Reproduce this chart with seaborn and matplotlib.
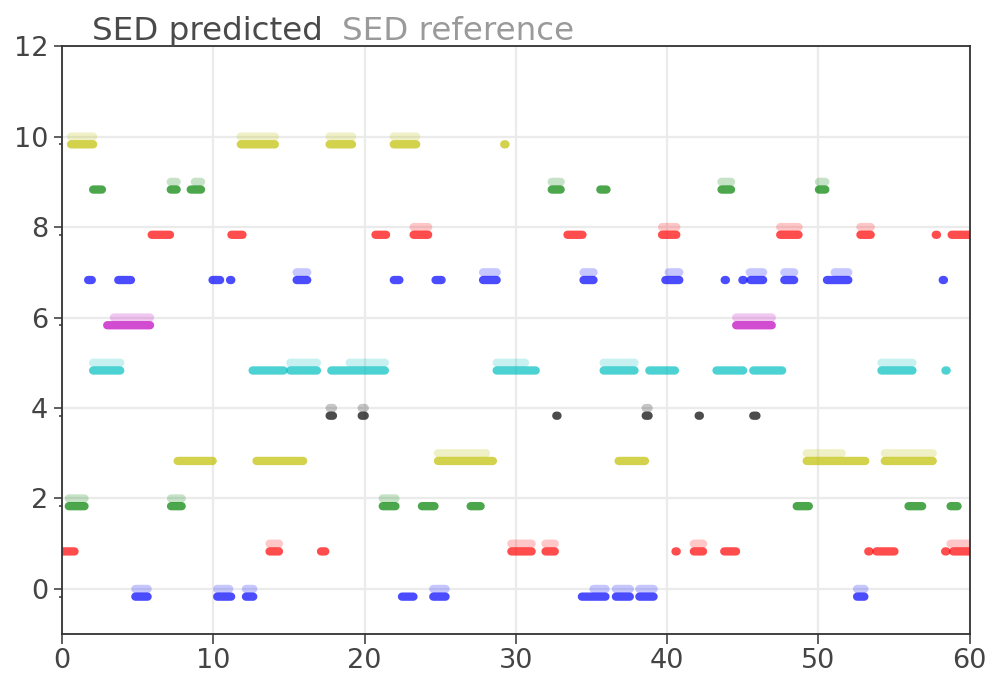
import numpy as np
import pandas as pd
import matplotlib
matplotlib.use("Agg")
import matplotlib.pyplot as plt
import seaborn as sns

# Class colours (matplotlib single-letter colours), one per event class 0..10
class_colors = ["b", "r", "g", "y", "k", "c", "m", "b", "r", "g", "y"]

# Predicted events: class, onset (s), offset (s)
pred_class = [10, 10, 10, 10, 10,
              9, 9, 9, 9, 9, 9, 9,
              8, 8, 8, 8, 8, 8, 8, 8, 8, 8,
              7, 7, 7, 7, 7, 7, 7, 7, 7, 7, 7, 7, 7, 7, 7, 7,
              6, 6,
              5, 5, 5, 5, 5, 5, 5, 5, 5, 5, 5,
              4, 4, 4, 4, 4, 4,
              3, 3, 3, 3, 3, 3,
              2, 2, 2, 2, 2, 2, 2, 2,
              1, 1, 1, 1, 1, 1, 1, 1, 1, 1, 1, 1,
              0, 0, 0, 0, 0, 0, 0, 0, 0]
pred_onset = [0.60, 11.82, 17.69, 21.93, 29.27,
              2.06, 7.19, 8.51, 32.37, 35.58, 43.59, 50.03,
              5.93, 11.20, 20.72, 23.24, 33.41, 39.66, 47.47, 52.77, 57.79, 58.80,
              1.73, 3.72, 9.95, 11.15, 15.51, 21.93, 24.69, 27.83, 34.47, 39.88, 43.84, 45.01, 45.51, 47.74, 50.56, 58.25,
              2.99, 44.56,
              2.06, 12.60, 15.09, 17.80, 28.73, 35.80, 38.82, 43.26, 45.69, 54.16, 58.43,
              17.69, 19.81, 32.71, 38.58, 42.12, 45.69,
              7.65, 12.86, 24.85, 36.79, 49.22, 54.38,
              0.45, 7.21, 21.20, 23.79, 27.01, 48.56, 55.95, 58.73,
              0.00, 13.72, 17.12, 29.70, 31.96, 40.59, 41.76, 43.77, 53.33, 53.83, 58.41, 58.90,
              4.85, 10.26, 12.16, 22.47, 24.54, 34.36, 36.61, 38.16, 52.55]
pred_offset = [2.06, 14.07, 19.17, 23.41, 29.27,
               2.64, 7.58, 9.19, 32.96, 35.99, 44.22, 50.45,
               7.14, 11.93, 21.42, 24.20, 34.40, 40.60, 48.68, 53.45, 57.79, 60.00,
               1.97, 4.56, 10.45, 11.15, 16.21, 22.30, 25.09, 28.73, 35.13, 40.80, 43.84, 45.01, 46.34, 48.39, 51.97, 58.25,
               5.82, 46.91,
               3.85, 14.65, 16.85, 21.34, 31.31, 37.84, 40.51, 45.02, 47.60, 56.21, 58.43,
               17.91, 20.01, 32.71, 38.77, 42.12, 45.90,
               9.96, 15.94, 28.48, 38.53, 53.09, 57.55,
               1.49, 7.91, 22.04, 24.62, 27.67, 49.36, 56.85, 59.19,
               0.83, 14.34, 17.40, 31.04, 32.57, 40.59, 42.37, 44.55, 53.33, 55.02, 58.41, 60.00,
               5.66, 11.18, 12.64, 23.23, 25.35, 35.92, 37.53, 39.10, 53.03]

# Reference (ground-truth) events: class, onset (s), offset (s)
ref_class = [10, 10, 10, 10,
             9, 9, 9, 9, 9,
             8, 8, 8, 8,
             7, 7, 7, 7, 7, 7, 7,
             6, 6,
             5, 5, 5, 5, 5, 5,
             4, 4, 4,
             3, 3, 3,
             2, 2, 2,
             1, 1, 1, 1, 1,
             0, 0, 0, 0, 0, 0, 0, 0]
ref_onset = [0.60, 11.82, 17.69, 21.93,
             7.19, 8.78, 32.37, 43.59, 50.03,
             23.24, 39.66, 47.47, 52.77,
             15.51, 27.83, 34.47, 40.10, 45.46, 47.74, 51.07,
             3.43, 44.56,
             2.06, 15.09, 19.02, 28.73, 35.80, 54.16,
             17.69, 19.81, 38.58,
             24.85, 49.22, 54.38,
             0.45, 7.21, 21.20,
             13.72, 29.70, 31.96, 41.76, 58.73,
             4.85, 10.26, 12.16, 24.54, 35.13, 36.61, 38.16, 52.55]
ref_offset = [2.06, 14.07, 19.17, 23.41,
              7.58, 9.19, 32.96, 44.22, 50.45,
              24.20, 40.60, 48.68, 53.45,
              16.21, 28.73, 35.13, 40.80, 46.34, 48.39, 51.97,
              5.82, 46.91,
              3.85, 16.85, 21.34, 30.60, 37.84, 56.21,
              17.91, 20.01, 38.77,
              28.02, 51.53, 57.55,
              1.49, 7.91, 22.04,
              14.34, 31.04, 32.57, 42.37, 60.00,
              5.66, 11.05, 12.64, 25.35, 35.92, 37.53, 39.10, 53.03]

y_ticks = [0, 2, 4, 6, 8, 10, 12]
x_ticks = [0, 10, 20, 30, 40, 50, 60]

PRED_SHIFT = -0.17
MIN_LEN = 0.08  # single-frame events still get a visible round dot


def to_long(classes, onsets, offsets, shift):
    rows = []
    for k, (c, a, b) in enumerate(zip(classes, onsets, offsets)):
        if b - a < MIN_LEN:
            mid = 0.5 * (a + b)
            a, b = mid - MIN_LEN / 2, mid + MIN_LEN / 2
        rows.append({"seg": k, "cls": c, "t": a, "y": c + shift})
        rows.append({"seg": k, "cls": c, "t": b, "y": c + shift})
    return pd.DataFrame(rows)


pred_df = to_long(pred_class, pred_onset, pred_offset, PRED_SHIFT)
ref_df = to_long(ref_class, ref_onset, ref_offset, 0.0)
palette = {i: matplotlib.colors.to_rgb(c) for i, c in enumerate(class_colors)}

sns.set_theme(style="whitegrid")
plt.rcParams["font.family"] = ["DejaVu Sans"]

fig = plt.figure(figsize=(9.9, 6.79), dpi=100)
ax = fig.add_axes([0.0626, 0.066, 0.917, 0.866])

common = dict(x="t", y="y", units="seg", estimator=None, hue="cls",
              palette=palette, legend=False, sort=False, ax=ax,
              linewidth=6.0, solid_capstyle="round", snap=False)
sns.lineplot(data=ref_df, alpha=0.22, **common)
sns.lineplot(data=pred_df, alpha=0.7, **common)

ax.set_xlim(0, 60)
ax.set_ylim(-1, 12)
ax.set_xticks(x_ticks)
ax.set_yticks(y_ticks)
ax.set_yticks([t + PRED_SHIFT for t in y_ticks[:-1]], minor=True)
ax.set_xlabel("")
ax.set_ylabel("")
ax.grid(True, which="major", color="#ebebeb", linewidth=1.6)
ax.grid(False, which="minor")
ax.set_axisbelow(True)

for side in ["left", "right", "top", "bottom"]:
    ax.spines[side].set_visible(True)
    ax.spines[side].set_color("#333333")
    ax.spines[side].set_linewidth(1.3)

ax.tick_params(axis="both", which="major", direction="out", length=6,
               width=1.2, color="#444444", labelsize=19.5, labelcolor="#444444",
               pad=4)
ax.tick_params(axis="y", which="minor", direction="out", length=2.5,
               width=1.2, color="#444444", left=True)
ax.tick_params(axis="x", which="major", length=7, pad=3)
ax.yaxis.set_ticks_position("left")
ax.xaxis.set_ticks_position("bottom")

ax.text(0.033, 1.010, "SED predicted", transform=ax.transAxes,
        fontsize=23.4, color="#4a4a4a", ha="left", va="baseline")
ax.text(0.309, 1.010, "SED reference", transform=ax.transAxes,
        fontsize=23.4, color="#9a9a9a", ha="left", va="baseline")

fig.savefig("out.png", dpi=100)
